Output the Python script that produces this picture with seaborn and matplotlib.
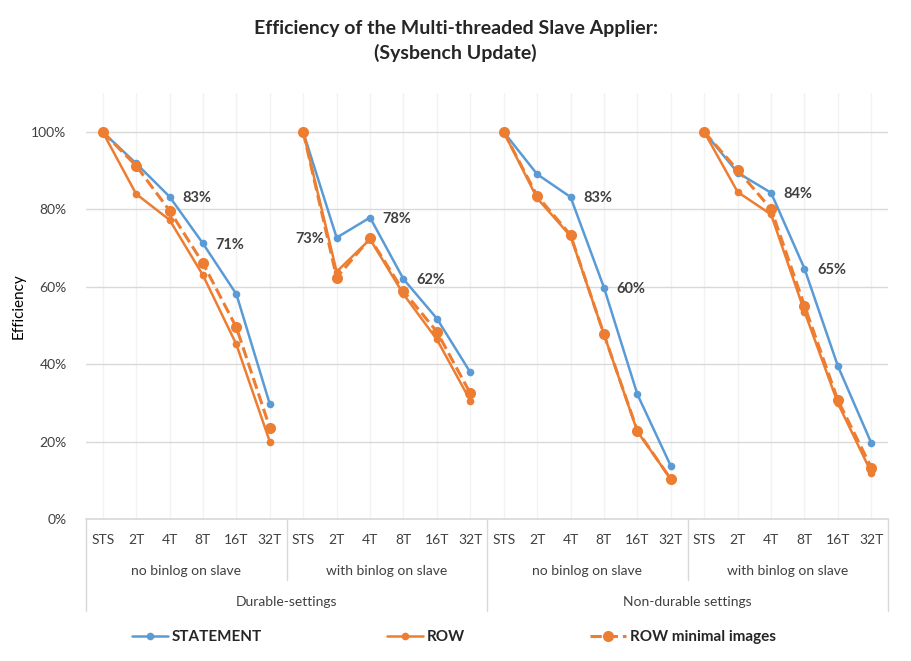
import matplotlib.pyplot as plt
from matplotlib.lines import Line2D
import pandas as pd
import seaborn as sns

# Category axis levels
THREADS = ["STS", "2T", "4T", "8T", "16T", "32T"]
SUBGROUPS = ["no binlog on slave", "with binlog on slave",
             "no binlog on slave", "with binlog on slave"]
SETTINGS = ["Durable-settings", "Non-durable settings"]

# Efficiency per subgroup (STS .. 32T)
STATEMENT = [
    [1.00, 0.919, 0.833, 0.712, 0.581, 0.297],
    [1.00, 0.727, 0.779, 0.620, 0.518, 0.379],
    [1.00, 0.891, 0.832, 0.598, 0.322, 0.137],
    [1.00, 0.895, 0.843, 0.647, 0.395, 0.196],
]
ROW = [
    [1.00, 0.840, 0.773, 0.630, 0.451, 0.200],
    [1.00, 0.639, 0.723, 0.581, 0.464, 0.306],
    [1.00, 0.829, 0.731, 0.477, 0.226, 0.103],
    [1.00, 0.845, 0.787, 0.536, 0.299, 0.120],
]
ROW_MIN = [
    [1.00, 0.913, 0.797, 0.661, 0.495, 0.236],
    [1.00, 0.624, 0.725, 0.589, 0.484, 0.325],
    [1.00, 0.835, 0.734, 0.477, 0.228, 0.103],
    [1.00, 0.902, 0.801, 0.551, 0.307, 0.133],
]

# STATEMENT points that carry a data label: (subgroup, thread index, side)
LABELS = [(0, 2, "r"), (0, 3, "r"), (1, 1, "l"), (1, 2, "r"), (1, 3, "r"),
          (2, 2, "r"), (2, 3, "r"), (3, 2, "r"), (3, 3, "r")]

BLUE = "#5B9BD5"
ORANGE = "#ED7D31"


def to_frame(values, name):
    rows = []
    for g, vals in enumerate(values):
        for i, v in enumerate(vals):
            rows.append({"series": name, "group": g, "pos": g * 6 + i, "eff": v})
    return pd.DataFrame(rows)


sns.set_theme(style="white")
plt.rcParams["font.family"] = ["Lato", "DejaVu Sans"]

fig = plt.figure(figsize=(9.11, 6.61), dpi=100)
ax = fig.add_axes([0.0944, 0.2148, 0.8804, 0.644])

styles = [
    (STATEMENT, "STATEMENT", BLUE, "-", 5.5, 1.8),
    (ROW, "ROW", ORANGE, "-", 5.5, 1.8),
    (ROW_MIN, "ROW minimal images", ORANGE, "--", 8, 2.2),
]
handles = []
for vals, name, color, ls, ms, lw in styles:
    df = to_frame(vals, name)
    sns.lineplot(data=df, x="pos", y="eff", units="group", estimator=None,
                 color=color, marker="o", markersize=ms, linewidth=lw,
                 linestyle=ls, markeredgecolor=color, markeredgewidth=0,
                 legend=False, ax=ax, zorder=3)
    handles.append(Line2D([], [], color=color, linestyle=ls, linewidth=lw,
                          marker="o", markersize=ms, markeredgewidth=0,
                          label=name))

# data labels on STATEMENT
for g, i, side in LABELS:
    v = STATEMENT[g][i]
    dx = 9 if side == "r" else -9
    ax.annotate(f"{v:.0%}", (g * 6 + i, v), xytext=(dx, -1),
                textcoords="offset points", ha="left" if side == "r" else "right",
                va="center", fontsize=10.5, fontweight="bold", color="#404040",
                zorder=4)

ax.set_xlim(-0.5, 23.5)
ax.set_ylim(0, 1.1)
ax.set_yticks([0, 0.2, 0.4, 0.6, 0.8, 1.0])
ax.set_yticklabels([f"{t:.0%}" for t in ax.get_yticks()])
ax.set_xticks(range(24))
ax.set_xticklabels(THREADS * 4)
ax.tick_params(axis="both", length=0, labelsize=10, colors="#404040")
ax.tick_params(axis="x", pad=11)
ax.tick_params(axis="y", pad=14)
ax.set_xlabel("")
ax.set_ylabel("Efficiency", fontsize=11, color="black", labelpad=4)

ax.grid(axis="y", color="#D9D9D9", linewidth=1)
ax.grid(axis="x", color="#F2F2F2", linewidth=1)
for s in ["top", "right", "left"]:
    ax.spines[s].set_visible(False)
ax.spines["bottom"].set_color("#D9D9D9")
ax.set_axisbelow(True)

# multi-level category labels
trans = ax.get_xaxis_transform()
for g, name in enumerate(SUBGROUPS):
    ax.text(g * 6 + 2.5, -0.122, name, transform=trans, ha="center",
            va="center", fontsize=10, color="#404040")
for s, name in enumerate(SETTINGS):
    ax.text(s * 12 + 5.5, -0.195, name, transform=trans, ha="center",
            va="center", fontsize=10, color="#404040")
for x, bottom in [(-0.5, -0.216), (5.5, -0.143), (11.5, -0.216),
                  (17.5, -0.143), (23.5, -0.216)]:
    ax.plot([x, x], [0, bottom], transform=trans, color="#D9D9D9",
            linewidth=1, clip_on=False)

fig.suptitle("Efficiency of the Multi-threaded Slave Applier:\n(Sysbench Update)",
             x=0.5, y=0.97, va="top", fontsize=14, fontweight="bold",
             linespacing=1.45)

leg = fig.legend(handles=handles, loc="center", bbox_to_anchor=(0.498, 0.036),
                 ncol=3, frameon=False, columnspacing=8.2, handlelength=2.35,
                 handletextpad=0.25, prop={"weight": "bold", "size": 11})

fig.savefig("out.png", dpi=100)
